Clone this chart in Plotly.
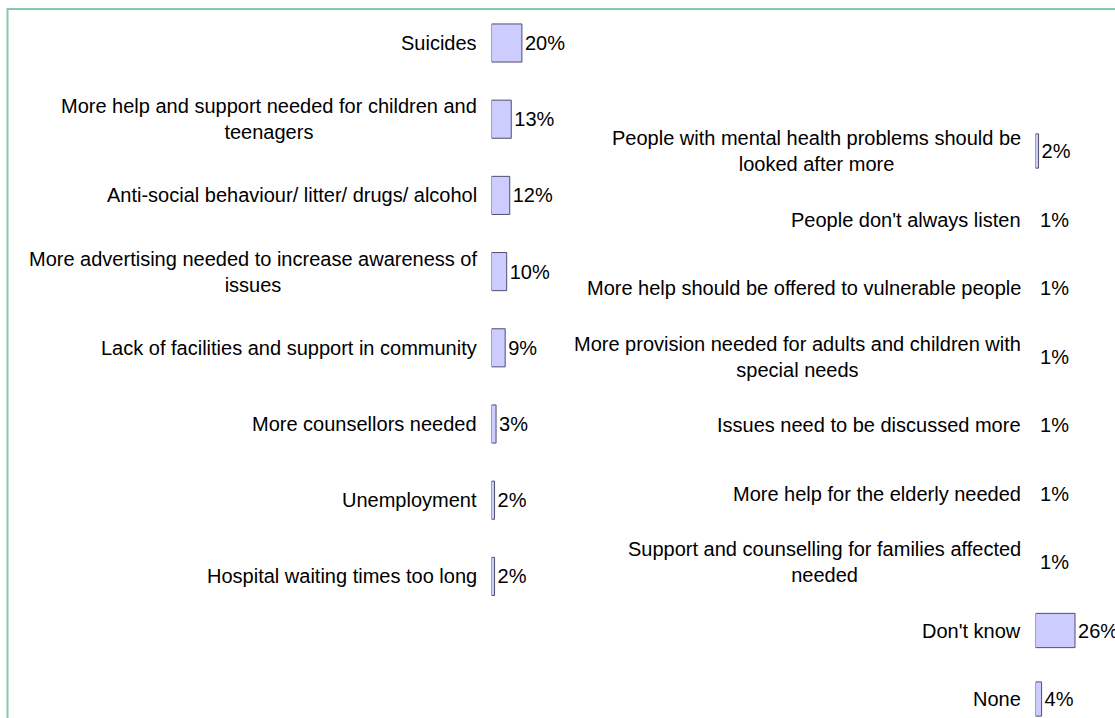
import plotly.graph_objects as go

# ---- data ----
left_categories = [
    "Suicides",
    "More help and support needed for children and<br>teenagers",
    "Anti-social behaviour/ litter/ drugs/ alcohol",
    "More advertising needed to increase awareness of<br>issues",
    "Lack of facilities and support in community",
    "More counsellors needed",
    "Unemployment",
    "Hospital waiting times too long",
]
left_values = [20, 13, 12, 10, 9, 3, 2, 2]

right_categories = [
    "People with mental health problems should be<br>looked after more",
    "People don't always listen",
    "More help should be offered to vulnerable people",
    "More provision needed for adults and children with<br>special needs",
    "Issues need to be discussed more",
    "More help for the elderly needed",
    "Support and counselling for families affected<br>needed",
    "Don't know",
    "None",
]
right_values = [2, 1, 1, 1, 1, 1, 1, 26, 4]

# ---- styling ----
W, H = 1115, 718
FONT = "Liberation Sans, Arial, sans-serif"
FS = 20
BAR_FILL = "#CCCCFF"
BAR_LINE = "#4F4F6E"
BORDER = "#88CAA8"
PX_PER_PCT = 1.52


def fills(vals):
    return [BAR_FILL if v > 1 else "rgba(0,0,0,0)" for v in vals]


def lws(vals):
    return [1 if v > 1 else 0 for v in vals]


fig = go.Figure()

fig.add_trace(go.Bar(
    x=left_values, y=left_categories, orientation="h",
    xaxis="x", yaxis="y",
    marker=dict(color=fills(left_values), line=dict(color=BAR_LINE, width=lws(left_values))),
    text=[f"{v}%" for v in left_values], textposition="outside",
    textfont=dict(family=FONT, size=FS, color="black"),
    constraintext="none", cliponaxis=False, showlegend=False, hoverinfo="skip",
))
fig.add_trace(go.Bar(
    x=right_values, y=right_categories, orientation="h",
    xaxis="x2", yaxis="y2",
    marker=dict(color=fills(right_values), line=dict(color=BAR_LINE, width=lws(right_values))),
    text=[f"{v}%" for v in right_values], textposition="outside",
    textfont=dict(family=FONT, size=FS, color="black"),
    constraintext="none", cliponaxis=False, showlegend=False, hoverinfo="skip",
))

# axis geometry
lx0, lx1 = 491.5 / W, 600 / W
rx0, rx1 = 1035.5 / W, 1.0
l_span = (lx1 - lx0) * W / PX_PER_PCT
r_span = (rx1 - rx0) * W / PX_PER_PCT

# left: first center at 43px, spacing 76.2px ; right: first at 151px, spacing 68.5px
l_step, l_first = 76.2, 43.0
r_step, r_first = 68.5, 151.0
l_r0 = -l_first / l_step
l_r1 = l_r0 + H / l_step
r_r0 = -r_first / r_step
r_r1 = r_r0 + H / r_step

hidden = dict(showgrid=False, zeroline=False, showline=False, showticklabels=False, ticks="")

fig.update_layout(
    width=W, height=H,
    margin=dict(l=0, r=0, t=0, b=0),
    paper_bgcolor="white", plot_bgcolor="rgba(0,0,0,0)",
    bargap=0.5,
    font=dict(family=FONT, size=FS, color="black"),
    xaxis=dict(domain=[lx0, lx1], range=[0, l_span], anchor="y", **hidden),
    yaxis=dict(domain=[0, 1], type="category", categoryarray=left_categories,
               range=[l_r1, l_r0], anchor="x", **hidden),
    xaxis2=dict(domain=[rx0, rx1], range=[0, r_span], anchor="y2", **hidden),
    yaxis2=dict(domain=[0, 1], type="category", categoryarray=right_categories,
                range=[r_r1, r_r0], anchor="x2", **hidden),
)

annotations = []
for c in left_categories:
    annotations.append(dict(x=0, y=c, xref="x", yref="y", text=c, showarrow=False,
                            xanchor="right", yanchor="middle", align="center", xshift=-13,
                            font=dict(family=FONT, size=FS, color="black")))
for c in right_categories:
    annotations.append(dict(x=0, y=c, xref="x2", yref="y2", text=c, showarrow=False,
                            xanchor="right", yanchor="middle", align="center", xshift=-13,
                            font=dict(family=FONT, size=FS, color="black")))
fig.update_layout(annotations=annotations)

# chart-area border (left and top edges visible)
fig.add_shape(type="path", xref="paper", yref="paper",
              path=f"M {7.5 / W} 0 L {7.5 / W} {1 - 9 / H} L 1 {1 - 9 / H}",
              line=dict(color=BORDER, width=2))

fig.write_html("out.html")
